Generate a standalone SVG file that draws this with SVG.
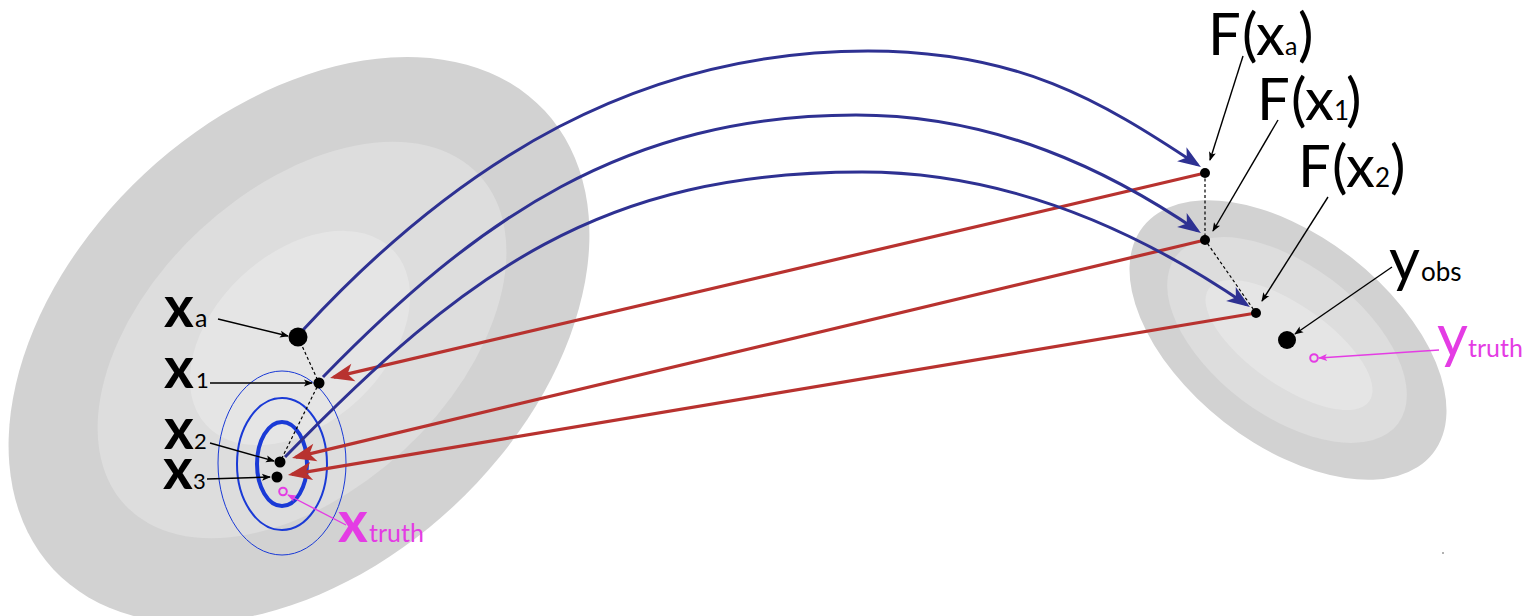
<svg xmlns="http://www.w3.org/2000/svg" width="1529" height="616" viewBox="0 0 1529 616">
<style>
.t{font-family:Lato,"Open Sans","Liberation Sans",sans-serif;fill:#000}
.b{font-weight:700}
.m{fill:#e43ce4}
.ptr{fill:none;stroke:#000;stroke-width:1.4;marker-end:url(#ak)}
.ptrm{fill:none;stroke:#e43ce4;stroke-width:1.4;marker-end:url(#am)}
.dash{fill:none;stroke:#000;stroke-width:1.2;stroke-dasharray:3 2.5}
.blue{fill:none;stroke:#2e3192;stroke-width:3;marker-end:url(#ab)}
.red{fill:none;stroke:#b8322f;stroke-width:3.2;marker-end:url(#ar)}
.dot{fill:#000}
</style>
<defs>
<marker id="ab" markerUnits="userSpaceOnUse" markerWidth="40" markerHeight="40" orient="auto" overflow="visible"><path d="M4,0 L-19,-8.5 L-13,0 L-19,8.5 Z" fill="#2e3192"/></marker>
<marker id="ar" markerUnits="userSpaceOnUse" markerWidth="40" markerHeight="40" orient="auto" overflow="visible"><path d="M4,0 L-20,-9 L-14,0 L-20,9 Z" fill="#b8322f"/></marker>
<marker id="ak" markerUnits="userSpaceOnUse" markerWidth="20" markerHeight="20" orient="auto" overflow="visible"><path d="M1,0 L-8,-3.5 L-6,0 L-8,3.5 Z" fill="#000"/></marker>
<marker id="am" markerUnits="userSpaceOnUse" markerWidth="20" markerHeight="20" orient="auto" overflow="visible"><path d="M1,0 L-8,-3.5 L-6,0 L-8,3.5 Z" fill="#e43ce4"/></marker>
</defs>
<rect width="1529" height="616" fill="#fff"/>
<g id="prior-space">
<ellipse cx="299" cy="340" rx="336" ry="227" transform="rotate(-43 299 340)" fill="#d2d2d2"/>
<ellipse cx="302" cy="340" rx="242" ry="150" transform="rotate(-43 302 340)" fill="#dddddd"/>
<ellipse cx="300" cy="338" rx="128" ry="85" transform="rotate(-43 300 338)" fill="#e5e5e5"/>
</g>
<g id="cost-contours" fill="none" stroke="#1a3ad6">
<ellipse cx="282" cy="463" rx="64" ry="92" stroke-width="1"/>
<ellipse cx="282" cy="464" rx="45" ry="66" stroke-width="2"/>
<ellipse cx="282" cy="464" rx="25" ry="42" stroke-width="4"/>
</g>
<g id="obs-space">
<ellipse cx="1288" cy="340" rx="184" ry="104" transform="rotate(38 1288 340)" fill="#d2d2d2"/>
<ellipse cx="1287" cy="340" rx="139" ry="75" transform="rotate(37 1287 340)" fill="#dddddd"/>
<ellipse cx="1289" cy="345" rx="98" ry="40" transform="rotate(35 1289 345)" fill="#e5e5e5"/>
</g>
<g id="connectors">
<path class="dash" d="M298,337 L319,383 L280,462"/>
<path class="dash" d="M1205,173 L1205,240 L1256,313"/>
<path class="red" d="M1205,173 L333.9,377.1"/>
<path class="red" d="M1205,240 L295.9,457.1"/>
<path class="red" d="M1256,313 L291.9,474.3"/>
<path class="blue" d="M303,330 C460,160 640,51 868,51 C1018,51 1100,100 1197.6,164.8"/>
<path class="blue" d="M323,377 C477,219 626,115 856,115 C996,115 1110,171 1197.6,230.8"/>
<path class="blue" d="M285,457 C467,270 602,172 862,172 C1012,172 1142,233 1246.6,304.8"/>
<path class="ptr" d="M218,319 L288,336"/>
<path class="ptr" d="M210,383 L312,383"/>
<path class="ptr" d="M210,443 L274,461"/>
<path class="ptr" d="M207,479 L270,477"/>
<path class="ptrm" d="M346,525 L288,495"/>
<path class="ptr" d="M1243,56 L1210,160"/>
<path class="ptr" d="M1278,120 L1213,231"/>
<path class="ptr" d="M1328,197 L1262,301"/>
<path class="ptr" d="M1392,267 L1295,334"/>
<path class="ptrm" d="M1439,350 L1319,358"/>
</g>
<g id="node-xa"><circle class="dot" cx="298" cy="337" r="9.5"/><text class="t" y="327"><tspan class="b" x="164" font-size="57">x</tspan><tspan x="195" font-size="25">a</tspan></text></g>
<g id="node-x1"><circle class="dot" cx="319" cy="383" r="5.5"/><text class="t" y="388"><tspan class="b" x="164" font-size="57">x</tspan><tspan x="196" font-size="22">1</tspan></text></g>
<g id="node-x2"><circle class="dot" cx="280" cy="462" r="5.5"/><text class="t" y="449"><tspan class="b" x="164" font-size="57">x</tspan><tspan x="194" font-size="22">2</tspan></text></g>
<g id="node-x3"><circle class="dot" cx="277" cy="477" r="5.5"/><text class="t" y="489"><tspan class="b" x="163" font-size="57">x</tspan><tspan x="193" font-size="22">3</tspan></text></g>
<g id="node-xtruth"><circle cx="283" cy="491.5" r="3.8" fill="none" stroke="#e43ce4" stroke-width="2"/><text class="t m" y="542"><tspan class="b" x="338" font-size="57">x</tspan><tspan x="369" font-size="25">truth</tspan></text></g>
<g id="node-Fxa"><circle class="dot" cx="1205" cy="173" r="5"/><text class="t" y="55" font-size="58"><tspan x="1208">F</tspan><tspan x="1242">(</tspan><tspan x="1256">x</tspan><tspan x="1285" font-size="25">a</tspan><tspan x="1298">)</tspan></text></g>
<g id="node-Fx1"><circle class="dot" cx="1205" cy="240" r="5"/><text class="t" y="120" font-size="58"><tspan x="1257">F</tspan><tspan x="1291">(</tspan><tspan x="1305">x</tspan><tspan x="1334" font-size="26">1</tspan><tspan x="1346">)</tspan></text></g>
<g id="node-Fx2"><circle class="dot" cx="1256" cy="313" r="5"/><text class="t" y="187" font-size="58"><tspan x="1298">F</tspan><tspan x="1332">(</tspan><tspan x="1346">x</tspan><tspan x="1375" font-size="26">2</tspan><tspan x="1390">)</tspan></text></g>
<g id="node-yobs"><circle class="dot" cx="1287" cy="340" r="9"/><text class="t" y="281"><tspan x="1389" font-size="60">y</tspan><tspan x="1421" font-size="26">obs</tspan></text></g>
<g id="node-ytruth"><circle cx="1314" cy="358" r="3.8" fill="none" stroke="#e43ce4" stroke-width="2"/><text class="t m" y="357"><tspan x="1437" font-size="60">y</tspan><tspan x="1468" font-size="25">truth</tspan></text></g>
<circle cx="1443" cy="553" r="1" fill="#999"/>
</svg>
